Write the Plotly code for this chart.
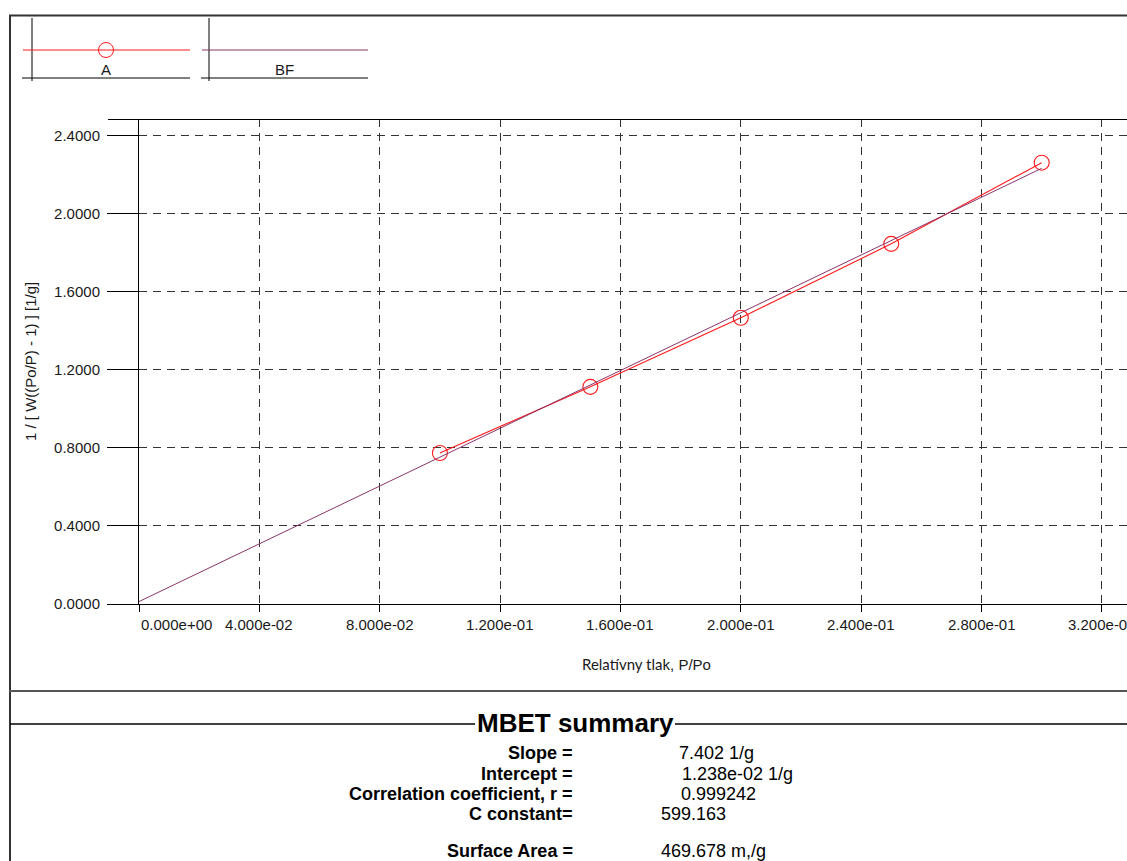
import plotly.graph_objects as go

# ---------------- data ----------------
a_x = [0.10, 0.15, 0.20, 0.25, 0.30]
a_y = [0.774, 1.113, 1.467, 1.846, 2.262]

bf_x = [0.0, 0.30]
bf_y = [0.0124, 2.233]

x_tick_vals = [0.0, 0.04, 0.08, 0.12, 0.16, 0.20, 0.24, 0.28, 0.32]
x_tick_labels = ["0.000e+00", "4.000e-02", "8.000e-02", "1.200e-01", "1.600e-01",
                 "2.000e-01", "2.400e-01", "2.800e-01", "3.200e-01"]
y_tick_vals = [0.0, 0.4, 0.8, 1.2, 1.6, 2.0, 2.4]
y_tick_labels = ["0.0000", "0.4000", "0.8000", "1.2000", "1.6000", "2.0000", "2.4000"]

summary_labels = ["Slope =", "Intercept =", "Correlation coefficient, r =", "C constant=", "Surface Area ="]
summary_values = ["7.402 1/g", "1.238e-02 1/g", "0.999242", "599.163", "469.678 m,/g"]

series_names = ["A", "BF"]

# ---------------- layout helpers (pixel -> paper) ----------------
W, H = 1127, 861
L, R, T, B = 139, 0, 119, 257
PW = W - L - R
PH = H - T - B


def px(x):
    return (x - L) / PW


def py(y):
    return (H - B - y) / PH


FONT = "Liberation Sans, Arial, sans-serif"
RED = "#ff1a1a"
PURPLE = "#8a3468"
DARK = "#1a1a1a"

fig = go.Figure()
fig.add_trace(go.Scatter(x=a_x, y=a_y, mode="lines+markers", name=series_names[0],
                         line=dict(color=RED, width=1.1),
                         marker=dict(symbol="circle-open", size=15, color=RED,
                                     line=dict(width=1.1, color=RED))))
fig.add_trace(go.Scatter(x=bf_x, y=bf_y, mode="lines", name=series_names[1],
                         line=dict(color=PURPLE, width=1)))

fig.update_layout(
    width=W, height=H,
    margin=dict(l=L, r=R, t=T, b=B, pad=0),
    paper_bgcolor="white", plot_bgcolor="white",
    showlegend=False,
    font=dict(family=FONT, size=15, color=DARK),
)

grid_common = dict(showgrid=True, gridcolor="#333333", gridwidth=1, griddash="8px,6px",
                   showline=True, linecolor="black", linewidth=1, zeroline=False,
                   ticks="outside", tickcolor="black", tickwidth=1)
fig.update_xaxes(range=[0, PW / 3009.0], tickvals=x_tick_vals, showticklabels=False,
                 ticklen=7, **grid_common)
fig.update_yaxes(range=[0, PH / 195.1], tickvals=y_tick_vals, ticktext=y_tick_labels,
                 ticklen=31, ticklabelstandoff=4,
                 tickfont=dict(family=FONT, size=15, color=DARK), **grid_common)

shapes = []


def hline(x0, x1, y, color="black", width=1):
    shapes.append(dict(type="line", xref="paper", yref="paper",
                       x0=px(x0), x1=px(x1), y0=py(y), y1=py(y),
                       line=dict(color=color, width=width)))


def vline(x, y0, y1, color="black", width=1):
    shapes.append(dict(type="line", xref="paper", yref="paper",
                       x0=px(x), x1=px(x), y0=py(y0), y1=py(y1),
                       line=dict(color=color, width=width)))


# outer frame
hline(9, W, 15.5, color="#333333", width=2)
vline(10, 15, H, color="#333333", width=2)
hline(9, W, 691, color="#555555", width=2)
# plot top border
hline(108, W, 119.5)
# legend boxes
vline(32, 18, 81)
hline(22, 190, 78)
hline(23, 190, 50, color=RED)
vline(209, 18, 81)
hline(201, 368, 78)
hline(202, 368, 50, color=PURPLE)
shapes.append(dict(type="circle", xref="paper", yref="paper",
                   xsizemode="pixel", ysizemode="pixel",
                   xanchor=px(106), yanchor=py(50),
                   x0=-7.5, x1=7.5, y0=-7.5, y1=7.5,
                   line=dict(color=RED, width=1)))
# MBET summary rule
hline(10, 475, 724, width=1.5)
hline(675, W, 724, width=1.5)
fig.update_layout(shapes=shapes)

ann = []
# legend labels
ann.append(dict(x=px(106), y=py(70), text=series_names[0]))
ann.append(dict(x=px(284), y=py(70), text=series_names[1]))
for a in ann:
    a.update(xref="paper", yref="paper", showarrow=False, xanchor="center", yanchor="middle",
             font=dict(family=FONT, size=15, color=DARK))

# x tick labels
for i, (v, t) in enumerate(zip(x_tick_vals, x_tick_labels)):
    ann.append(dict(x=v, xref="x", y=0, yref="paper", yanchor="top", yshift=-10,
                    xanchor="left" if i == 0 else "center", showarrow=False, text=t,
                    font=dict(family=FONT, size=15, color=DARK)))

# axis titles
ann.append(dict(x=px(30), y=py(362), xref="paper", yref="paper", showarrow=False,
                textangle=-90, text="1 / [ W((Po/P) - 1) ] [1/g]",
                xanchor="center", yanchor="middle",
                font=dict(family=FONT, size=15, color=DARK)))
ann.append(dict(x=px(646), y=py(664), xref="paper", yref="paper", showarrow=False,
                text='<span style="font-family:Lato">Relatívny tlak</span>, P/Po',
                xanchor="center", yanchor="middle",
                font=dict(family=FONT, size=15, color=DARK)))

# summary
ann.append(dict(x=px(575), y=py(723), xref="paper", yref="paper", showarrow=False,
                text="<b>MBET summary</b>", xanchor="center", yanchor="middle",
                font=dict(family=FONT, size=26, color="black")))
label_y = [753, 774, 794, 814, 851]
value_x = [677, 680, 679, 659, 659]
for lab, val, yy, vx in zip(summary_labels, summary_values, label_y, value_x):
    ann.append(dict(x=px(575), y=py(yy), xref="paper", yref="paper", showarrow=False,
                    text="<b>" + lab + "</b>", xanchor="right", yanchor="middle",
                    font=dict(family=FONT, size=18, color="black")))
    ann.append(dict(x=px(vx), y=py(yy), xref="paper", yref="paper", showarrow=False,
                    text=val, xanchor="left", yanchor="middle",
                    font=dict(family=FONT, size=18, color="black")))

fig.update_layout(annotations=ann)

fig.write_html("out.html", config={"displayModeBar": False},
               post_script="document.body.style.margin='0';document.body.style.overflow='hidden';")
